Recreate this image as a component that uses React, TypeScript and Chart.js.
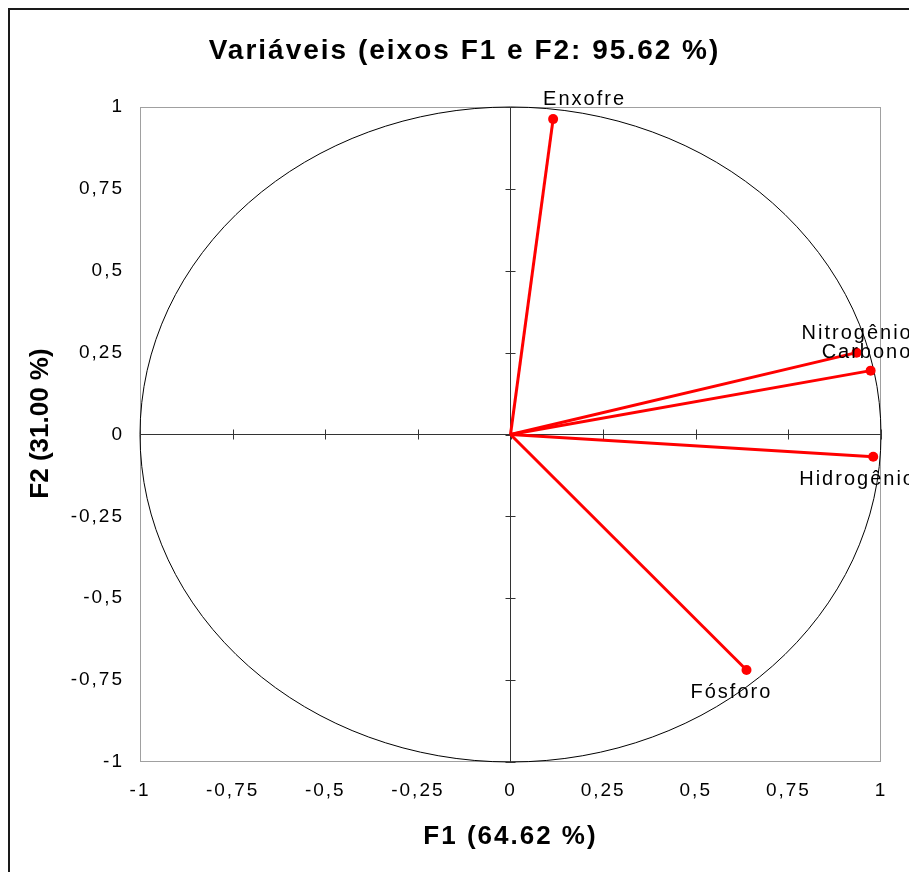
import { useEffect, useRef } from 'react';
import { Chart, registerables } from 'chart.js';

Chart.register(...registerables);

// PCA correlation circle: variable loadings on the first two factors
const VARIABLES = ['Enxofre', 'Nitrogênio', 'Carbono', 'Hidrogênio', 'Fósforo'];
const F1 = [0.115, 0.934, 0.972, 0.979, 0.637];
const F2 = [0.963, 0.25, 0.195, -0.068, -0.719];

const AXIS_MIN = -1;
const AXIS_MAX = 1;
const AXIS_STEP = 0.25;

const TITLE = 'Variáveis (eixos F1 e F2: 95.62 %)';
const X_TITLE = 'F1 (64.62 %)';
const Y_TITLE = 'F2 (31.00 %)';

// where each variable name sits relative to its vector tip: [dx to text start, dy to baseline]
const LABEL_OFFSETS = [
  [-10, -14],
  [-55, -14],
  [-49, -13],
  [-74, 28],
  [-56, 28],
];

const FONT = 'Arial, "Liberation Sans", sans-serif';
const RED = '#ff0000';

const formatTick = (v: number) => String(v).replace('.', ',');

// wide letter spacing for all text drawn by the chart
const spacingPlugin = {
  id: 'spacing',
  beforeUpdate(chart: any) {
    chart.ctx.letterSpacing = '2px';
  },
  beforeDraw(chart: any) {
    chart.ctx.letterSpacing = '2px';
  },
};

// outer frame, plot frame, unit circle and the axes crossing at the origin
const backdropPlugin = {
  id: 'backdrop',
  beforeDatasetsDraw(chart: any) {
    const { ctx, chartArea } = chart;
    const xs = chart.scales.x;
    const ys = chart.scales.y;
    ctx.save();

    ctx.strokeStyle = '#1a1a1a';
    ctx.lineWidth = 2;
    ctx.strokeRect(9, 9, 2000, 2000);

    ctx.strokeStyle = '#a0a0a0';
    ctx.lineWidth = 1;
    ctx.strokeRect(
      chartArea.left + 0.5,
      chartArea.top + 0.5,
      chartArea.right - chartArea.left - 1,
      chartArea.bottom - chartArea.top - 1
    );

    const cx = xs.getPixelForValue(0);
    const cy = ys.getPixelForValue(0);
    const rx = xs.getPixelForValue(1) - cx;
    const ry = cy - ys.getPixelForValue(1);

    ctx.strokeStyle = '#000';
    ctx.lineWidth = 1;
    ctx.beginPath();
    ctx.ellipse(cx, cy, rx, ry, 0, 0, Math.PI * 2);
    ctx.stroke();

    ctx.strokeStyle = '#333';
    ctx.beginPath();
    ctx.moveTo(chartArea.left, cy);
    ctx.lineTo(chartArea.right, cy);
    ctx.moveTo(cx, chartArea.top);
    ctx.lineTo(cx, chartArea.bottom);
    xs.ticks.forEach((t: any) => {
      const px = Math.round(xs.getPixelForValue(t.value)) + 0.5;
      ctx.moveTo(px, cy - 5);
      ctx.lineTo(px, cy + 5);
    });
    ys.ticks.forEach((t: any) => {
      const py = Math.round(ys.getPixelForValue(t.value)) + 0.5;
      ctx.moveTo(cx - 5, py);
      ctx.lineTo(cx + 5, py);
    });
    ctx.stroke();
    ctx.restore();
  },
  afterDatasetsDraw(chart: any) {
    const { ctx, chartArea } = chart;
    ctx.save();
    ctx.fillStyle = '#000';
    ctx.font = `20px ${FONT}`;
    ctx.letterSpacing = '2px';
    ctx.textAlign = 'left';
    ctx.textBaseline = 'alphabetic';
    VARIABLES.forEach((name, i) => {
      const pt = chart.getDatasetMeta(i).data[1];
      const [dx, dy] = LABEL_OFFSETS[i];
      ctx.fillText(name, pt.x + dx, pt.y + dy);
    });

    // vertical axis title
    ctx.letterSpacing = '0px';
    ctx.font = `bold 26px ${FONT}`;
    ctx.textAlign = 'center';
    ctx.textBaseline = 'middle';
    ctx.translate(41, (chartArea.top + chartArea.bottom) / 2 - 11);
    ctx.rotate(-Math.PI / 2);
    ctx.fillText(Y_TITLE, 0, 0);
    ctx.restore();
  },
};

export default function App() {
  const canvasRef = useRef<HTMLCanvasElement | null>(null);

  useEffect(() => {
    const canvas = canvasRef.current;
    if (!canvas) return;

    const datasets = VARIABLES.map((name, i) => ({
      label: name,
      data: [
        { x: 0, y: 0 },
        { x: F1[i], y: F2[i] },
      ],
      showLine: true,
      borderColor: RED,
      borderWidth: 3,
      pointRadius: [0, 5],
      pointBackgroundColor: RED,
      pointBorderWidth: 0,
      pointHoverRadius: [0, 5],
    }));

    const tickFont = { family: FONT, size: 19 };

    const chart = new Chart(canvas, {
      type: 'scatter',
      data: { datasets },
      options: {
        animation: false,
        responsive: false,
        devicePixelRatio: 1,
        layout: { padding: { left: 48, right: 28, top: 0, bottom: 0 } },
        plugins: {
          legend: { display: false },
          tooltip: { enabled: false },
          title: {
            display: true,
            text: TITLE,
            color: '#000',
            font: { family: FONT, size: 28, weight: 'bold', lineHeight: 1.2 },
            padding: { top: 34, bottom: 39.4 },
          },
        },
        scales: {
          x: {
            type: 'linear',
            min: AXIS_MIN,
            max: AXIS_MAX,
            grid: { display: false, drawTicks: false },
            border: { display: false },
            ticks: {
              stepSize: AXIS_STEP,
              color: '#000',
              font: tickFont,
              padding: 17,
              maxRotation: 0,
              autoSkip: false,
              callback: (v: any) => formatTick(Number(v)),
            },
            title: {
              display: true,
              text: X_TITLE,
              color: '#000',
              font: { family: FONT, size: 26, weight: 'bold', lineHeight: 1.2 },
              padding: { top: 0, bottom: 20 },
            },
            afterFit: (s: any) => {
              s.height = 110;
            },
          },
          y: {
            type: 'linear',
            min: AXIS_MIN,
            max: AXIS_MAX,
            grid: { display: false, drawTicks: false },
            border: { display: false },
            ticks: {
              stepSize: AXIS_STEP,
              color: '#000',
              font: tickFont,
              padding: 16,
              autoSkip: false,
              callback: (v: any) => formatTick(Number(v)),
            },
            afterFit: (s: any) => {
              s.width = 92;
            },
          },
        },
      } as any,
      plugins: [spacingPlugin, backdropPlugin],
    });

    return () => chart.destroy();
  }, []);

  return (
    <div
      style={{
        position: 'absolute',
        left: 0,
        top: 0,
        width: 909,
        height: 872,
        overflow: 'hidden',
        background: '#fff',
      }}
    >
      <canvas ref={canvasRef} width={909} height={872} style={{ display: 'block' }} />
    </div>
  );
}
